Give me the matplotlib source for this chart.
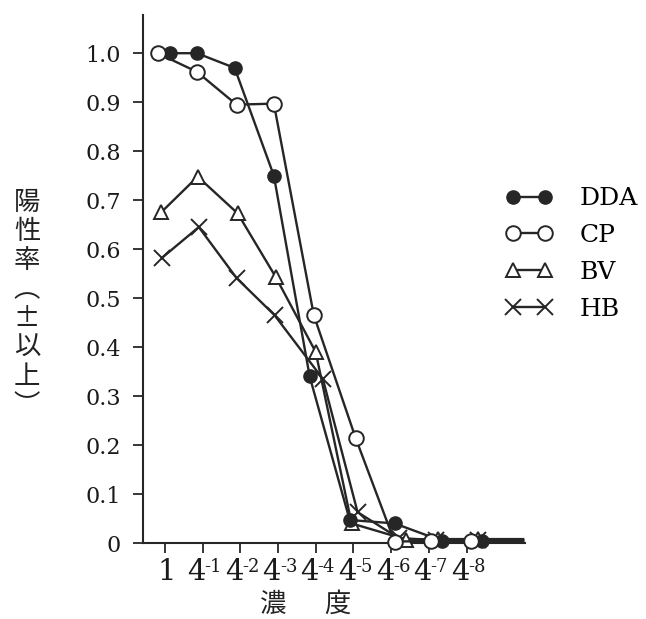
"""
Positive rate vs. dilution for four stains.
"""

import matplotlib
matplotlib.use('Agg')
import matplotlib.pyplot as plt
from matplotlib.lines import Line2D

plt.rcParams['font.family'] = ['DejaVu Serif', 'DejaVu Sans']

# x position in tick units (0 = "1", 1 = 4^-1, ...)
dda_x = [0.13, 0.85, 1.85, 2.89, 3.84, 4.90, 6.09, 7.36, 8.40]
dda_y = [1.0, 1.0, 0.97, 0.75, 0.34, 0.047, 0.04, 0.004, 0.004]

cp_x = [-0.19, 0.85, 1.90, 2.89, 3.95, 5.06, 6.09, 7.07, 8.13]
cp_y = [1.0, 0.962, 0.895, 0.897, 0.465, 0.214, 0.003, 0.004, 0.004]

bv_x = [-0.10, 0.87, 1.93, 2.94, 4.00, 4.95, 6.40, 7.25, 8.30]
bv_y = [0.675, 0.748, 0.673, 0.543, 0.39, 0.04, 0.007, 0.008, 0.008]

hb_x = [-0.08, 0.90, 1.90, 2.91, 4.19, 5.11, 6.20, 7.20, 8.30]
hb_y = [0.582, 0.645, 0.541, 0.465, 0.335, 0.063, 0.01, 0.006, 0.006]

tail_x = 9.5   # lines run on past the last point

series_names = ['DDA', 'CP', 'BV', 'HB']
# x tick labels: base and exponent (drawn as 4 with a small raised exponent)
tick_bases = ['1', '4', '4', '4', '4', '4', '4', '4', '4']
tick_exps = ['', '-1', '-2', '-3', '-4', '-5', '-6', '-7', '-8']
y_ticks = [0, 0.1, 0.2, 0.3, 0.4, 0.5, 0.6, 0.7, 0.8, 0.9, 1.0]
y_tick_labels = ['0', '0.1', '0.2', '0.3', '0.4', '0.5', '0.6', '0.7', '0.8', '0.9', '1.0']

INK = '#262626'

fig = plt.figure(figsize=(6.46, 6.19), dpi=100)
ax = fig.add_axes([143/646, 76/619, 382/646, 528/619])

styles = {
    'DDA': dict(marker='o', mfc=INK, mec=INK, ms=9.5, zorder=4),
    'CP':  dict(marker='o', mfc='white', mec=INK, ms=10.5, mew=1.4, zorder=5),
    'BV':  dict(marker='^', mfc='white', mec=INK, ms=10.5, mew=1.4, zorder=3),
    'HB':  dict(marker='x', mfc='none', mec=INK, ms=11, mew=1.4, zorder=2),
}
data = {'DDA': (dda_x, dda_y), 'CP': (cp_x, cp_y),
        'BV': (bv_x, bv_y), 'HB': (hb_x, hb_y)}

handles = []
for name in series_names:
    x, y = data[name]
    st = styles[name]
    ax.plot(x + [tail_x], y + [y[-1]], color=INK, lw=1.7,
            markevery=list(range(len(x))), clip_on=False, **st)
    handles.append(Line2D([], [], color=INK, lw=1.7, **{k: v for k, v in st.items() if k != 'zorder'}))

ax.set_xlim(-0.58, 9.55)
ax.set_ylim(0, 1.078)
ax.set_xticks(range(len(tick_bases)))
ax.set_xticklabels([])
ax.set_yticks(y_ticks)
ax.set_yticklabels(y_tick_labels, fontsize=16)
ax.tick_params(axis='both', direction='out', length=7, width=1.3, color=INK,
               labelcolor='#1a1a1a')
ax.tick_params(axis='y', pad=9)

for i, (b, e) in enumerate(zip(tick_bases, tick_exps)):
    if e:
        ax.annotate(b, xy=(i, 0), xycoords=('data', 'axes fraction'),
                    xytext=(-4.5, -11), textcoords='offset points',
                    ha='center', va='top', fontsize=21, color='#1a1a1a')
        ax.annotate(e, xy=(i, 0), xycoords=('data', 'axes fraction'),
                    xytext=(1.3, -11), textcoords='offset points',
                    ha='left', va='top', fontsize=13, color='#1a1a1a')
    else:
        ax.annotate(b, xy=(i, 0), xycoords=('data', 'axes fraction'),
                    xytext=(1.5, -11), textcoords='offset points',
                    ha='center', va='top', fontsize=21, color='#1a1a1a')

for side in ['top', 'right']:
    ax.spines[side].set_visible(False)
for side in ['left', 'bottom']:
    ax.spines[side].set_linewidth(1.5)
    ax.spines[side].set_color(INK)

ax.legend(handles, series_names, loc='center left', frameon=False,
          bbox_to_anchor=(505/646, 1 - 254/619), bbox_transform=fig.transFigure,
          fontsize=18, handlelength=1.9, handletextpad=1.1, labelspacing=0.55,
          borderpad=0, borderaxespad=0, numpoints=2)

jp = ['Noto Sans CJK JP', 'DejaVu Sans']
fig.text(27/646, 1 - 304/619, '陽\n性\n率\n︵\n±\n以\n上\n︶', family=jp,
         fontsize=19, linespacing=1.1, ha='center', va='center', color='#222222')
fig.text(273/646, 1 - 604/619, '濃', family=jp, fontsize=19,
         ha='center', va='center', color='#222222')
fig.text(337/646, 1 - 604/619, '度', family=jp, fontsize=19,
         ha='center', va='center', color='#222222')

plt.savefig('out.png', dpi=100)
